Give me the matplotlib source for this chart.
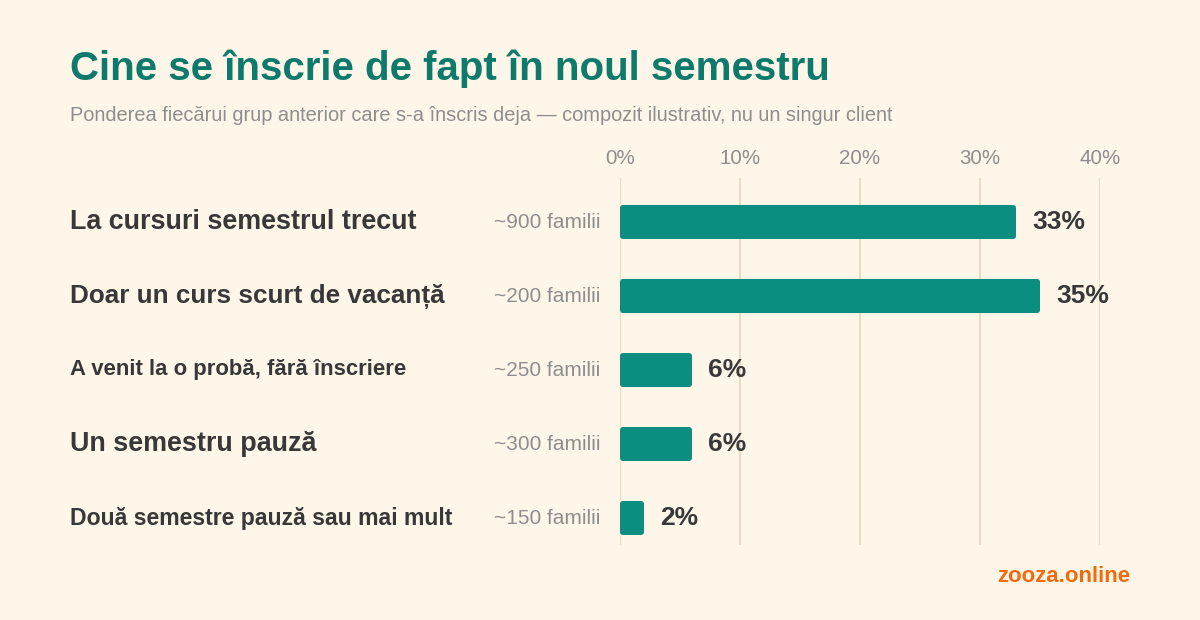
import matplotlib
matplotlib.use("Agg")
import matplotlib.pyplot as plt
from matplotlib.patches import FancyBboxPatch

categories = [
    "La cursuri semestrul trecut",
    "Doar un curs scurt de vacanță",
    "A venit la o probă, fără înscriere",
    "Un semestru pauză",
    "Două semestre pauză sau mai mult",
]
values = [33, 35, 6, 6, 2]
families = ["~900 familii", "~200 familii", "~250 familii", "~300 familii", "~150 familii"]
label_sizes = [19.4, 18.8, 15.9, 19.4, 16.6]
ticks = [0, 10, 20, 30, 40]
tick_labels = ["0%", "10%", "20%", "30%", "40%"]

BG = "#fef6e9"
TEAL = "#0b8d80"
TITLE = "#0e7a6c"
DARK = "#383838"
GRAY = "#8e8e8e"
GRID = "#e8dec6"

plt.rcParams["font.family"] = ["Liberation Sans", "DejaVu Sans"]

fig = plt.figure(figsize=(12, 6.2), dpi=100, facecolor=BG)
W, H = 1200, 620
ax = fig.add_axes([620 / W, 1 - 545 / H, 480 / W, (545 - 178) / H])
ax.set_facecolor(BG)
ax.set_xlim(0, 40)
ax.set_ylim(4 + 27 / 74, -44 / 74)
for s in ax.spines.values():
    s.set_visible(False)
ax.set_yticks([])
ax.xaxis.tick_top()
ax.set_xticks(ticks)
ax.set_xticklabels(tick_labels, color=GRAY, fontsize=14.8)
ax.tick_params(axis="x", length=0, pad=7)
for t in ticks:
    ax.axvline(t, color=GRID, lw=1.5, zorder=0)

bh = 34 / 74
px_x = 480 / 40  # px per unit x
px_y = 74        # px per unit y
for i, (v, cat, fam, ls) in enumerate(zip(values, categories, families, label_sizes)):
    patch = FancyBboxPatch(
        (0, i - bh / 2), v, bh,
        boxstyle="round,pad=0,rounding_size=%f" % (3 / px_x),
        mutation_aspect=px_x / px_y,
        facecolor=TEAL, edgecolor="none", zorder=2,
    )
    ax.add_patch(patch)
    ax.annotate(f"{v}%", (v, i), xytext=(16, 0), textcoords="offset pixels",
                ha="left", va="center", fontsize=19, fontweight="bold", color=DARK)
    ax.annotate(fam, (0, i), xytext=(-20, 0), textcoords="offset pixels",
                ha="right", va="center", fontsize=15, color=GRAY)
    ax.annotate(cat, (0, i), xycoords=("figure fraction", "data"),
                xytext=(70, 0), textcoords="offset pixels",
                ha="left", va="center", fontsize=ls, fontweight="bold", color=DARK)

fig.text(70 / W, 1 - 69 / H, "Cine se înscrie de fapt în noul semestru",
         ha="left", va="center", fontsize=29, fontweight="bold", color=TITLE)
fig.text(70 / W, 1 - 115 / H,
         "Ponderea fiecărui grup anterior care s-a înscris deja — compozit ilustrativ, nu un singur client",
         ha="left", va="center", fontsize=14.4, color=GRAY)
fig.text(1130 / W, 1 - 577 / H, "zooza.online", ha="right", va="center",
         fontsize=16, fontweight="bold", color="#f26b0c")

fig.savefig("out.png", dpi=100, facecolor=BG)
